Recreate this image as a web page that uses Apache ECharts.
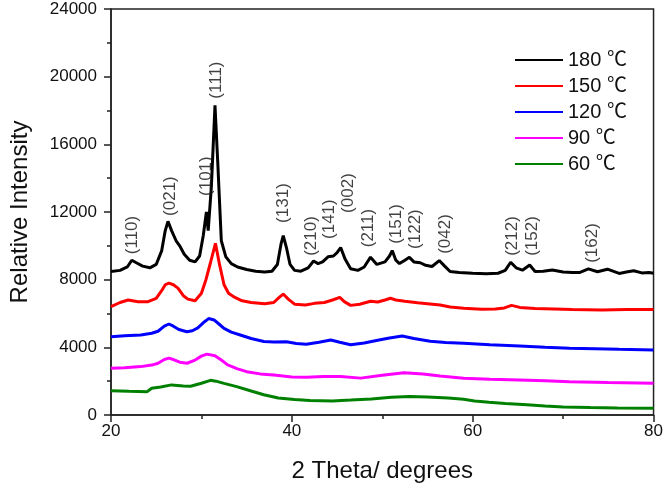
<!DOCTYPE html>
<html><head><meta charset="utf-8">
<script src="https://cdn.jsdelivr.net/npm/echarts@6/dist/echarts.min.js"></script>
<style>html,body{margin:0;padding:0;background:#fff}#c{width:666px;height:488px}</style>
</head><body><div id="c"></div>
<script>
const seriesNames = ['180 ℃', '150 ℃', '120 ℃', '90 ℃', '60 ℃'];

const x180 = [20,21,21.8,22.3,22.8,23.5,24.3,25.0,25.6,26.0,26.3,26.7,27.2,27.6,28.1,28.7,29.3,29.8,30.2,30.55,30.75,31.1,31.5,31.8,32.2,32.7,33.3,34.0,35.0,36.0,37.0,37.8,38.4,38.8,39.05,39.4,39.8,40.3,41.0,41.8,42.4,42.9,43.4,44.0,44.6,45.0,45.4,45.9,46.5,47.3,48.0,48.7,49.4,50.3,50.8,51.1,51.5,51.9,52.5,53.0,53.5,54.2,54.8,55.5,56.3,56.9,57.5,58.5,60,61.5,62.8,63.6,64.2,64.8,65.5,66.3,66.9,67.8,68.8,70.0,71.0,71.8,72.8,73.8,74.9,76.2,77.0,77.8,78.7,79.5,80];
const y180 = [8480,8550,8750,9150,9000,8800,8700,8900,9700,10900,11450,10900,10300,10000,9500,9150,9050,9400,10600,12000,10900,13500,18300,15000,10300,9350,8950,8750,8600,8500,8450,8500,8900,10100,10600,9900,8900,8550,8500,8700,9100,8950,9050,9350,9400,9600,9900,9200,8650,8550,8750,9330,8900,9050,9400,9720,9150,8950,9150,9320,9050,9000,8850,8780,9130,8800,8480,8420,8380,8350,8380,8550,9030,8700,8560,8870,8480,8500,8570,8450,8420,8420,8640,8470,8620,8370,8450,8530,8400,8420,8380];

const x150 = [20,21,21.9,23,24.1,25.0,25.6,26.0,26.4,26.9,27.4,28.0,28.5,29.3,30.0,30.5,31.0,31.55,32.0,32.5,33.0,33.7,34.5,35.5,37.0,38.0,38.6,39.05,39.6,40.3,41.5,42.5,43.6,44.5,45.3,45.8,46.5,47.5,48.7,49.5,50.3,50.9,51.5,52.5,53.9,55.0,56.4,57.5,59.0,61,62.5,63.5,64.3,65.2,66.9,69,71,74.3,77,80];
const y150 = [6400,6650,6800,6700,6700,6900,7350,7700,7800,7700,7500,7050,6850,6750,7200,8000,9000,10150,8900,7700,7200,6950,6750,6650,6580,6650,6950,7150,6850,6550,6500,6600,6650,6800,6950,6700,6480,6550,6720,6680,6800,6900,6800,6720,6640,6580,6500,6380,6310,6250,6260,6330,6480,6360,6300,6270,6230,6200,6230,6230];

const x120 = [20,21.5,23.3,24.5,25.2,25.9,26.4,26.9,27.5,28.4,29.0,29.6,30.2,30.8,31.4,32.0,32.5,33.3,34.3,35.5,36.9,38.0,39.4,40.5,41.6,43.0,44.3,45.3,46.5,48.0,49.5,50.8,52.2,53.5,55.3,57,59.0,61.9,65.2,68,70.7,73.5,76.2,80];
const y120 = [4620,4680,4730,4830,4950,5250,5380,5250,5050,4920,4980,5150,5450,5700,5620,5350,5120,4900,4730,4520,4350,4320,4330,4230,4180,4300,4430,4300,4150,4260,4420,4550,4670,4520,4360,4290,4240,4150,4080,4000,3940,3910,3880,3840];

const x90 = [20,21.5,23.3,24.5,25.2,25.9,26.4,26.9,27.6,28.4,29.3,30.0,30.6,31.5,32.2,32.9,34.0,35.0,36.5,38.0,40.0,41.6,43.5,45.4,47.6,50.0,52.4,54.5,56.4,59.0,61.9,65.2,68,70.7,75,80];
const y90 = [2760,2800,2860,2950,3060,3280,3360,3280,3120,3060,3250,3480,3600,3500,3250,2960,2730,2560,2430,2360,2250,2230,2280,2270,2180,2350,2500,2420,2300,2170,2110,2070,2020,1970,1920,1870];

const x60 = [20,22,24.0,24.5,25.5,26.7,28.0,28.8,30.0,31.0,31.6,32.5,33.9,35.5,36.9,38.5,40.3,42.0,44.5,46.5,48.8,51.0,53.0,55.0,57.3,59.0,60.2,61.8,63.6,66.0,68.0,70.0,73.0,76.0,80];
const y60 = [1430,1400,1380,1580,1650,1780,1720,1700,1880,2050,2000,1870,1680,1420,1200,1000,910,850,830,880,950,1050,1100,1070,1000,930,830,750,680,600,530,480,440,420,400];

const peakNames = ['(110)','(021)','(101)','(111)','(131)','(210)','(141)','(002)','(211)','(151)','(122)','(042)','(212)','(152)','(162)'];
const peakX = [22.4,26.6,30.5,31.7,39.1,42.2,44.1,46.2,48.5,51.5,53.7,57.0,64.4,66.6,73.2];
const peakY = [10640,12940,14120,19800,12530,10580,11580,13120,11050,11290,10990,10700,10580,10580,10170];

const xTicks = [20, 40, 60, 80];
const yTicks = [0, 4000, 8000, 12000, 16000, 20000, 24000];

const colors = ['#000000', '#ff0000', '#0000ff', '#ff00ff', '#008000'];
const xs = [x180, x150, x120, x90, x60];
const ys = [y180, y150, y120, y90, y60];
const FONT = '"Liberation Sans", Arial, "Noto Sans CJK SC", sans-serif';

const chart = echarts.init(document.getElementById('c'), null, {renderer: 'canvas'});
const lineSeries = seriesNames.map((n, i) => ({
  name: n, type: 'line', symbol: 'none', smooth: false,
  data: xs[i].map((x, k) => [x, ys[i][k]]),
  lineStyle: {color: colors[i], width: 3},
  itemStyle: {color: colors[i]},
  z: 10 - i
}));
const labelSeries = {
  name: 'labels', type: 'scatter', symbolSize: 0,
  data: peakNames.map((n, i) => ({name: n, value: [peakX[i], peakY[i]]})),
  label: {show: true, position: 'inside', rotate: 90, formatter: p => p.name,
    fontSize: 17, color: '#111', fontFamily: FONT},
  silent: true, z: 20
};
chart.setOption({
  animation: false,
  backgroundColor: '#ffffff',
  grid: {left: 108, right: 11, top: 9, bottom: 73, show: true, borderColor: '#222', borderWidth: 1.5, backgroundColor: 'transparent'},
  legend: {
    data: seriesNames, orient: 'vertical', left: 510, top: 45,
    itemWidth: 48, itemHeight: 14, itemGap: 6,
    textStyle: {fontSize: 20, color: '#111', fontFamily: FONT},
    icon: 'path://M0,0 L48,0 L48,2 L0,2 Z'
  },
  xAxis: {
    type: 'value', min: xTicks[0], max: xTicks[xTicks.length - 1], interval: 20,
    name: '2 Theta/ degrees', nameLocation: 'middle', nameGap: 44,
    nameTextStyle: {fontSize: 24, color: '#111', fontFamily: FONT},
    axisLine: {show: true, onZero: false, lineStyle: {color: '#222', width: 1.5}},
    axisTick: {show: true, inside: false, length: 7, lineStyle: {color: '#222', width: 1.5}},
    minorTick: {show: true, splitNumber: 2, length: 4, lineStyle: {color: '#222', width: 1.5}},
    axisLabel: {fontSize: 17, color: '#111', margin: 8, fontFamily: FONT, formatter: v => String(v)},
    splitLine: {show: false}
  },
  yAxis: {
    type: 'value', min: yTicks[0], max: yTicks[yTicks.length - 1], interval: 4000,
    name: 'Relative Intensity', nameLocation: 'middle', nameGap: 79,
    nameTextStyle: {fontSize: 24, color: '#111', fontFamily: FONT},
    axisLine: {show: true, onZero: false, lineStyle: {color: '#222', width: 1.5}},
    axisTick: {show: true, inside: false, length: 7, lineStyle: {color: '#222', width: 1.5}},
    minorTick: {show: true, splitNumber: 2, length: 4, lineStyle: {color: '#222', width: 1.5}},
    axisLabel: {fontSize: 17, color: '#111', margin: 14, fontFamily: FONT, formatter: v => String(v)},
    splitLine: {show: false}
  },
  series: [...lineSeries, labelSeries]
});
</script></body></html>
